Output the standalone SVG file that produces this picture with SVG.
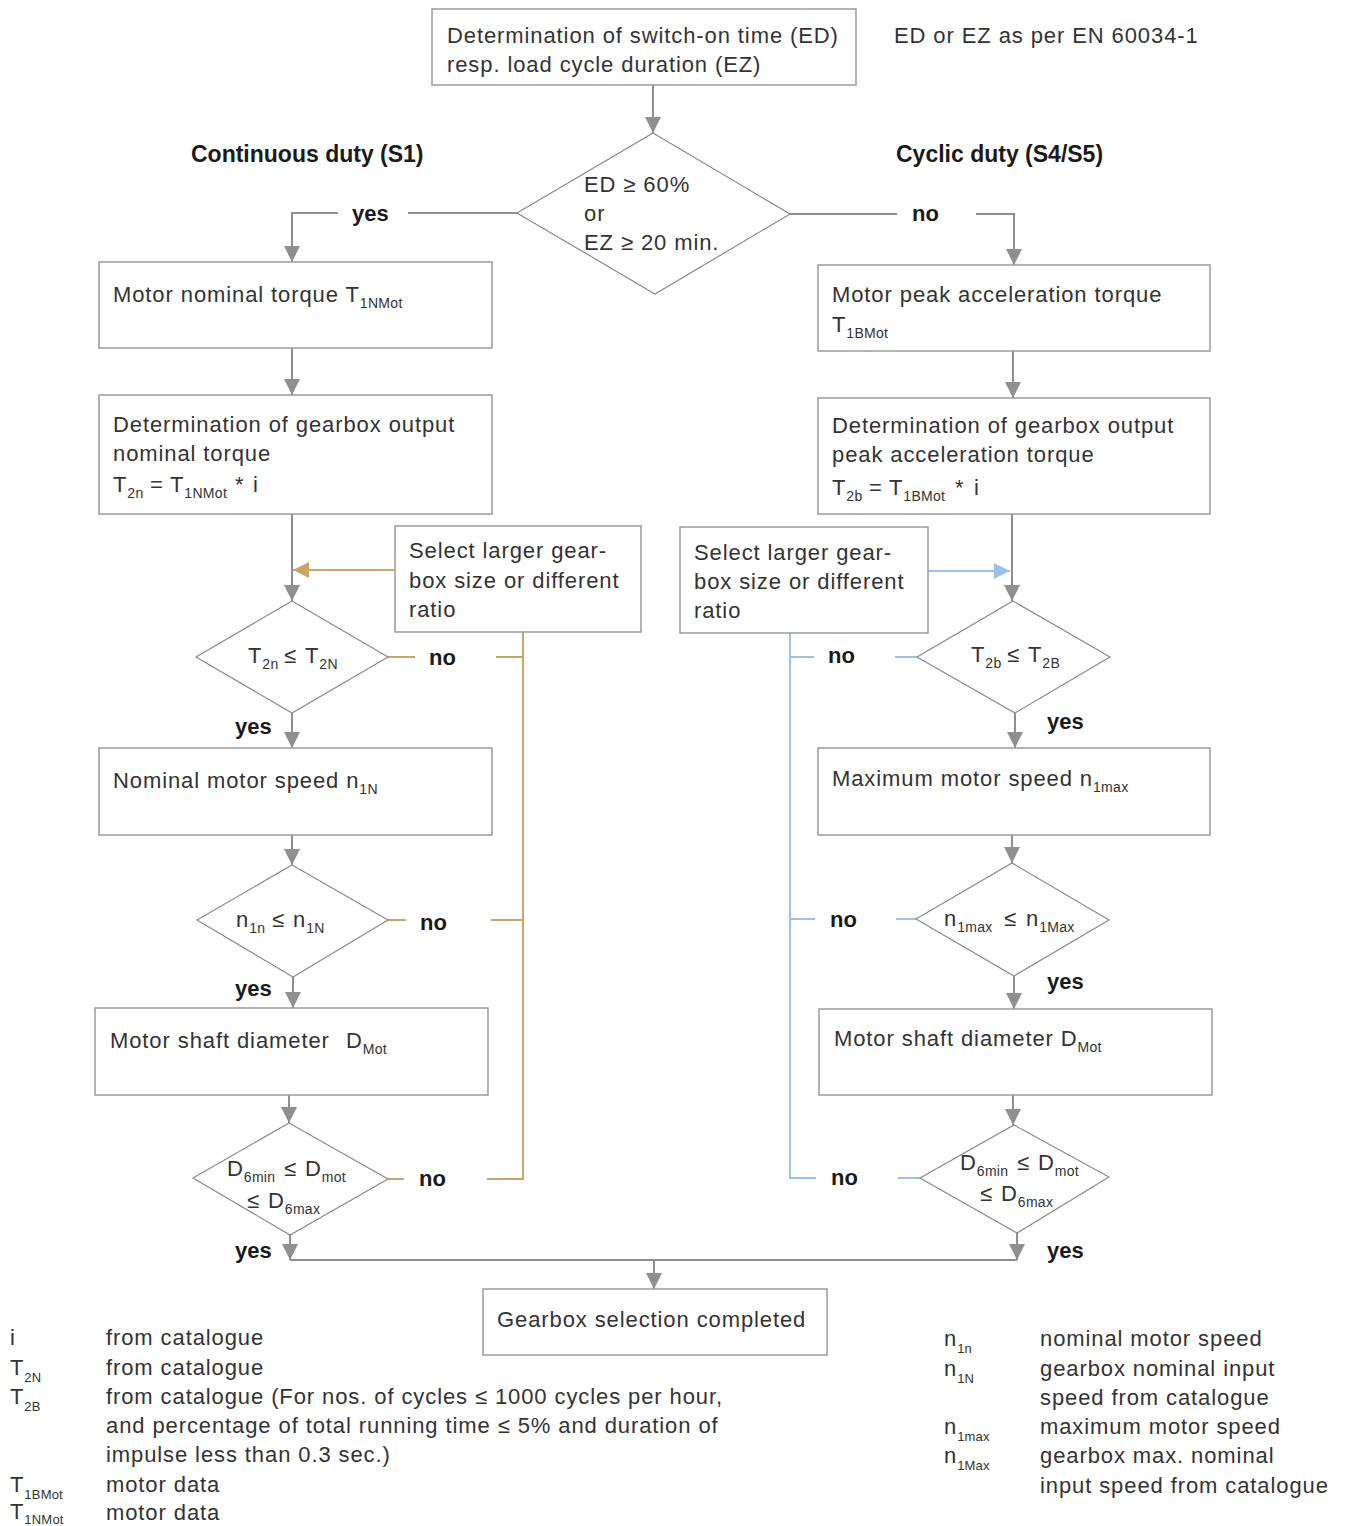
<svg xmlns="http://www.w3.org/2000/svg" width="1347" height="1526" viewBox="0 0 1347 1526">
<style>
.t{font-family:"Liberation Sans",Arial,sans-serif;font-size:22px;fill:#333;letter-spacing:0.9px}
.b{font-family:"Liberation Sans",Arial,sans-serif;font-size:22px;font-weight:bold;fill:#1a1a1a}
.h{font-family:"Liberation Sans",Arial,sans-serif;font-size:23px;font-weight:bold;fill:#1a1a1a}
.s{font-size:14px;letter-spacing:0.3px}
.ls{font-size:13px;letter-spacing:0.2px}
.box{fill:#fff;stroke:#9b9b9b;stroke-width:1.5}
.dia{fill:#fff;stroke:#8a8a8a;stroke-width:1.2}
.g{fill:none;stroke:#8e8f92;stroke-width:2}
.o{fill:none;stroke:#c9a46b;stroke-width:2}
.bl{fill:none;stroke:#9ec0e8;stroke-width:2}
</style>
<defs>
<marker id="ag" viewBox="0 0 16 16" refX="16" refY="8" markerWidth="16" markerHeight="16" markerUnits="userSpaceOnUse" orient="auto"><path d="M0,0 L16,8 L0,16 z" fill="#8e8f92"/></marker>
<marker id="ao" viewBox="0 0 16 16" refX="16" refY="8" markerWidth="16" markerHeight="16" markerUnits="userSpaceOnUse" orient="auto"><path d="M0,0 L16,8 L0,16 z" fill="#c9a46b"/></marker>
<marker id="ab" viewBox="0 0 16 16" refX="16" refY="8" markerWidth="16" markerHeight="16" markerUnits="userSpaceOnUse" orient="auto"><path d="M0,0 L16,8 L0,16 z" fill="#9ec0e8"/></marker>
</defs>

<g id="connectors">
<line class="g" x1="653" y1="85" x2="653" y2="133" marker-end="url(#ag)"/>
<line class="g" x1="517" y1="213" x2="408" y2="213"/>
<polyline class="g" points="338,213 292,213 292,262" marker-end="url(#ag)"/>
<line class="g" x1="790" y1="214" x2="897" y2="214"/>
<polyline class="g" points="976,214 1014,214 1014,265" marker-end="url(#ag)"/>
<line class="g" x1="292" y1="348" x2="292" y2="395" marker-end="url(#ag)"/>
<line class="g" x1="292" y1="514" x2="292" y2="601" marker-end="url(#ag)"/>
<line class="g" x1="292" y1="713" x2="292" y2="748" marker-end="url(#ag)"/>
<line class="g" x1="292" y1="835" x2="292" y2="865" marker-end="url(#ag)"/>
<line class="g" x1="293" y1="977" x2="293" y2="1008" marker-end="url(#ag)"/>
<line class="g" x1="289" y1="1095" x2="289" y2="1123" marker-end="url(#ag)"/>
<line class="g" x1="290" y1="1235" x2="290" y2="1260" marker-end="url(#ag)"/>
<line class="g" x1="290" y1="1260" x2="1017" y2="1260"/>
<line class="g" x1="654" y1="1260" x2="654" y2="1289" marker-end="url(#ag)"/>
<line class="g" x1="1013" y1="351" x2="1013" y2="398" marker-end="url(#ag)"/>
<line class="g" x1="1012" y1="514" x2="1012" y2="601" marker-end="url(#ag)"/>
<line class="g" x1="1015" y1="713" x2="1015" y2="748" marker-end="url(#ag)"/>
<line class="g" x1="1012" y1="835" x2="1012" y2="863" marker-end="url(#ag)"/>
<line class="g" x1="1014" y1="976" x2="1014" y2="1009" marker-end="url(#ag)"/>
<line class="g" x1="1013" y1="1095" x2="1013" y2="1125" marker-end="url(#ag)"/>
<line class="g" x1="1017" y1="1233" x2="1017" y2="1260" marker-end="url(#ag)"/>
<line class="o" x1="395" y1="570" x2="293" y2="570" marker-end="url(#ao)"/>
<line class="o" x1="388" y1="657" x2="415" y2="657"/>
<line class="o" x1="496" y1="657" x2="523" y2="657"/>
<line class="o" x1="388" y1="920" x2="406" y2="920"/>
<line class="o" x1="491" y1="920" x2="523" y2="920"/>
<line class="o" x1="388" y1="1179" x2="404" y2="1179"/>
<polyline class="o" points="523,632 523,1179 487,1179"/>
<line class="bl" x1="928" y1="571" x2="1010" y2="571" marker-end="url(#ab)"/>
<polyline class="bl" points="790,633 790,1178 816,1178"/>
<line class="bl" x1="790" y1="657" x2="814" y2="657"/>
<line class="bl" x1="895" y1="657" x2="917" y2="657"/>
<line class="bl" x1="790" y1="919" x2="815" y2="919"/>
<line class="bl" x1="896" y1="919" x2="916" y2="919"/>
<line class="bl" x1="898" y1="1178" x2="920" y2="1178"/>
</g>

<g id="labels">
<text class="h" x="191" y="162">Continuous duty (S1)</text>
<text class="h" x="896" y="162">Cyclic duty (S4/S5)</text>
<text class="t" x="894" y="43">ED or EZ as per EN 60034-1</text>
<text class="b" x="352" y="221">yes</text>
<text class="b" x="912" y="221">no</text>
<text class="b" x="429" y="665">no</text>
<text class="b" x="235" y="734">yes</text>
<text class="b" x="420" y="930">no</text>
<text class="b" x="235" y="996">yes</text>
<text class="b" x="419" y="1186">no</text>
<text class="b" x="235" y="1258">yes</text>
<text class="b" x="828" y="663">no</text>
<text class="b" x="1047" y="729">yes</text>
<text class="b" x="830" y="927">no</text>
<text class="b" x="1047" y="989">yes</text>
<text class="b" x="831" y="1185">no</text>
<text class="b" x="1047" y="1258">yes</text>
</g>

<g id="start">
<rect class="box" x="432" y="9" width="424" height="76"/>
<text class="t" x="447" y="43">Determination of switch-on time (ED)</text>
<text class="t" x="447" y="72">resp. load cycle duration (EZ)</text>
</g>

<g id="decision-duty">
<polygon class="dia" points="653,133 790,214 655,294 517,213"/>
<text class="t" x="584" y="192">ED ≥ 60%</text>
<text class="t" x="584" y="221">or</text>
<text class="t" x="584" y="250">EZ ≥ 20 min.</text>
</g>

<g id="l-torque">
<rect class="box" x="99" y="262" width="393" height="86"/>
<text class="t" x="113" y="302">Motor nominal torque T<tspan class="s" dy="6">1NMot</tspan></text>
</g>

<g id="l-output">
<rect class="box" x="99" y="395" width="393" height="119"/>
<text class="t" x="113" y="432">Determination of gearbox output</text>
<text class="t" x="113" y="461">nominal torque</text>
<text class="t" x="113" y="492">T<tspan class="s" dy="6">2n</tspan><tspan x="150" dy="-6">=</tspan><tspan x="170">T</tspan><tspan class="s" dy="6">1NMot</tspan><tspan x="235" dy="-6">*</tspan><tspan x="253">i</tspan></text>
</g>

<g id="l-select">
<rect class="box" x="395" y="526" width="246" height="106"/>
<text class="t" x="409" y="558">Select larger gear-</text>
<text class="t" x="409" y="588">box size or different</text>
<text class="t" x="409" y="617">ratio</text>
</g>

<g id="l-dec1">
<polygon class="dia" points="292,601 388,657 292,713 196,657"/>
<text class="t" x="248" y="663">T<tspan class="s" dy="6">2n</tspan><tspan x="284" dy="-6">≤</tspan><tspan x="305">T</tspan><tspan class="s" dy="6">2N</tspan></text>
</g>

<g id="l-speed">
<rect class="box" x="99" y="748" width="393" height="87"/>
<text class="t" x="113" y="788">Nominal motor speed n<tspan class="s" dy="6">1N</tspan></text>
</g>

<g id="l-dec2">
<polygon class="dia" points="292,865 388,920 293,977 197,920"/>
<text class="t" x="236" y="927">n<tspan class="s" dy="6">1n</tspan><tspan x="272" dy="-6">≤</tspan><tspan x="293">n</tspan><tspan class="s" dy="6">1N</tspan></text>
</g>

<g id="l-shaft">
<rect class="box" x="95" y="1008" width="393" height="87"/>
<text class="t" x="110" y="1048">Motor shaft diameter<tspan x="346">D</tspan><tspan class="s" dy="6">Mot</tspan></text>
</g>

<g id="l-dec3">
<polygon class="dia" points="289,1123 388,1179 290,1235 193,1178"/>
<text class="t" x="227" y="1176">D<tspan class="s" dy="6">6min</tspan><tspan x="284" dy="-6">≤</tspan><tspan x="305">D</tspan><tspan class="s" dy="6">mot</tspan></text>
<text class="t" x="247" y="1208">≤<tspan x="268">D</tspan><tspan class="s" dy="6">6max</tspan></text>
</g>

<g id="r-torque">
<rect class="box" x="818" y="265" width="392" height="86"/>
<text class="t" x="832" y="302">Motor peak acceleration torque</text>
<text class="t" x="832" y="332">T<tspan class="s" dy="6">1BMot</tspan></text>
</g>

<g id="r-output">
<rect class="box" x="818" y="398" width="392" height="116"/>
<text class="t" x="832" y="433">Determination of gearbox output</text>
<text class="t" x="832" y="462">peak acceleration torque</text>
<text class="t" x="832" y="495">T<tspan class="s" dy="6">2b</tspan><tspan x="869" dy="-6">=</tspan><tspan x="889">T</tspan><tspan class="s" dy="6">1BMot</tspan><tspan x="955" dy="-6">*</tspan><tspan x="974">i</tspan></text>
</g>

<g id="r-select">
<rect class="box" x="680" y="527" width="248" height="106"/>
<text class="t" x="694" y="560">Select larger gear-</text>
<text class="t" x="694" y="589">box size or different</text>
<text class="t" x="694" y="618">ratio</text>
</g>

<g id="r-dec1">
<polygon class="dia" points="1013,601 1110,657 1015,713 917,657"/>
<text class="t" x="971" y="662">T<tspan class="s" dy="6">2b</tspan><tspan x="1007" dy="-6">≤</tspan><tspan x="1028">T</tspan><tspan class="s" dy="6">2B</tspan></text>
</g>

<g id="r-speed">
<rect class="box" x="818" y="748" width="392" height="87"/>
<text class="t" x="832" y="786">Maximum motor speed n<tspan class="s" dy="6">1max</tspan></text>
</g>

<g id="r-dec2">
<polygon class="dia" points="1012,863 1109,920 1014,976 916,919"/>
<text class="t" x="944" y="926">n<tspan class="s" dy="6">1max</tspan><tspan x="1004" dy="-6">≤</tspan><tspan x="1026">n</tspan><tspan class="s" dy="6">1Max</tspan></text>
</g>

<g id="r-shaft">
<rect class="box" x="819" y="1009" width="393" height="86"/>
<text class="t" x="834" y="1046">Motor shaft diameter D<tspan class="s" dy="6">Mot</tspan></text>
</g>

<g id="r-dec3">
<polygon class="dia" points="1014,1125 1109,1177 1017,1233 920,1178"/>
<text class="t" x="960" y="1170">D<tspan class="s" dy="6">6min</tspan><tspan x="1017" dy="-6">≤</tspan><tspan x="1038">D</tspan><tspan class="s" dy="6">mot</tspan></text>
<text class="t" x="980" y="1201">≤<tspan x="1001">D</tspan><tspan class="s" dy="6">6max</tspan></text>
</g>

<g id="end">
<rect class="box" x="483" y="1289" width="344" height="66"/>
<text class="t" x="497" y="1327">Gearbox selection completed</text>
</g>

<g id="legend-left">
<text class="t" x="10" y="1345">i</text>
<text class="t" x="10" y="1375">T<tspan class="ls" dy="7">2N</tspan></text>
<text class="t" x="10" y="1404">T<tspan class="ls" dy="7">2B</tspan></text>
<text class="t" x="10" y="1492">T<tspan class="ls" dy="7">1BMot</tspan></text>
<text class="t" x="10" y="1519">T<tspan class="ls" dy="5">1NMot</tspan></text>
<text class="t" x="106" y="1345">from catalogue</text>
<text class="t" x="106" y="1375">from catalogue</text>
<text class="t" x="106" y="1404">from catalogue (For nos. of cycles ≤ 1000 cycles per hour,</text>
<text class="t" x="106" y="1433">and percentage of total running time ≤ 5% and duration of</text>
<text class="t" x="106" y="1462">impulse less than 0.3 sec.)</text>
<text class="t" x="106" y="1492">motor data</text>
<text class="t" x="106" y="1520">motor data</text>
</g>

<g id="legend-right">
<text class="t" x="944" y="1346">n<tspan class="ls" dy="7">1n</tspan></text>
<text class="t" x="944" y="1376">n<tspan class="ls" dy="7">1N</tspan></text>
<text class="t" x="944" y="1434">n<tspan class="ls" dy="7">1max</tspan></text>
<text class="t" x="944" y="1463">n<tspan class="ls" dy="7">1Max</tspan></text>
<text class="t" x="1040" y="1346">nominal motor speed</text>
<text class="t" x="1040" y="1376">gearbox nominal input</text>
<text class="t" x="1040" y="1405">speed from catalogue</text>
<text class="t" x="1040" y="1434">maximum motor speed</text>
<text class="t" x="1040" y="1463">gearbox max. nominal</text>
<text class="t" x="1040" y="1493">input speed from catalogue</text>
</g>
</svg>
